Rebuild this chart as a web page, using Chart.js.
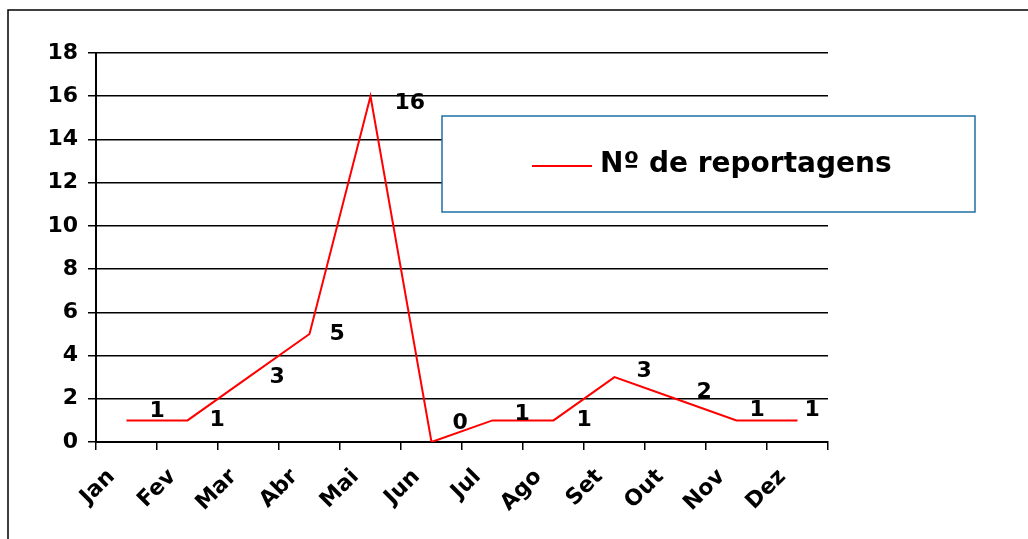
<!DOCTYPE html>
<html>
<head>
<meta charset="utf-8">
<script src="https://cdn.jsdelivr.net/npm/chart.js@4"></script>
<style>
  html, body { margin: 0; padding: 0; background: #fff; }
  #wrap { width: 1028px; height: 539px; position: relative; }
</style>
</head>
<body>
<div id="wrap"><canvas id="myLineChart"></canvas></div>
<script>
// dados do gráfico
const months = ['Jan', 'Fev', 'Mar', 'Abr', 'Mai', 'Jun', 'Jul', 'Ago', 'Set', 'Out', 'Nov', 'Dez'];
const reportagens = [1, 1, 3, 5, 16, 0, 1, 1, 3, 2, 1, 1];
const seriesName = 'Nº de reportagens';
const yTicks = [0, 2, 4, 6, 8, 10, 12, 14, 16, 18];

const FONT = '"DejaVu Sans", Verdana, sans-serif';

// moldura externa (como no Excel)
const framePlugin = {
    id: 'frame',
    beforeDraw(chart) {
        const ctx = chart.ctx;
        ctx.save();
        ctx.fillStyle = '#fff';
        ctx.fillRect(0, 0, chart.width, chart.height);
        ctx.strokeStyle = '#000';
        ctx.lineWidth = 1.5;
        ctx.beginPath();
        ctx.moveTo(8, chart.height + 5);
        ctx.lineTo(8, 10);
        ctx.lineTo(chart.width + 5, 10);
        ctx.stroke();
        ctx.restore();
    }
};

// rótulos dos valores, ao lado de cada ponto
const valueLabels = {
    id: 'valueLabels',
    afterDatasetsDraw(chart, args, opts) {
        const ctx = chart.ctx;
        const meta = chart.getDatasetMeta(0);
        const values = chart.data.datasets[0].data;
        ctx.save();
        ctx.font = opts.font;
        ctx.fillStyle = '#000';
        ctx.textAlign = 'left';
        ctx.textBaseline = 'middle';
        meta.data.forEach((pt, i) => {
            const off = opts.offsets[i] || [22, 0];
            ctx.fillText(String(values[i]), pt.x + off[0], pt.y + off[1]);
        });
        ctx.restore();
    }
};

// caixa da legenda sobreposta ao gráfico
const legendBox = {
    id: 'legendBox',
    afterDraw(chart, args, opts) {
        const ctx = chart.ctx;
        const ds = chart.data.datasets[0];
        const b = opts.box;
        ctx.save();
        ctx.fillStyle = '#fff';
        ctx.fillRect(b.x, b.y, b.w, b.h);
        ctx.strokeStyle = opts.borderColor;
        ctx.lineWidth = 1.5;
        ctx.strokeRect(b.x, b.y, b.w, b.h);
        ctx.strokeStyle = ds.borderColor;
        ctx.lineWidth = 2;
        ctx.beginPath();
        ctx.moveTo(b.x + 90, b.y + 50);
        ctx.lineTo(b.x + 150, b.y + 50);
        ctx.stroke();
        ctx.fillStyle = '#000';
        ctx.font = opts.font;
        ctx.textAlign = 'left';
        ctx.textBaseline = 'middle';
        ctx.fillText(ds.label, b.x + 158, b.y + 49);
        ctx.restore();
    }
};

const ctxEl = document.getElementById('myLineChart');

new Chart(ctxEl.getContext('2d'), {
    type: 'line',
    data: {
        labels: months,
        datasets: [{
            label: seriesName,
            data: reportagens,
            borderColor: '#ff0000',
            backgroundColor: '#ff0000',
            borderWidth: 2,
            pointRadius: 0,
            tension: 0
        }]
    },
    options: {
        responsive: true,
        maintainAspectRatio: false,
        animation: false,
        layout: {
            padding: { top: 53, right: 200, bottom: 0, left: 0 }
        },
        scales: {
            x: {
                offset: true,
                afterFit: s => { s.height = 97; },
                grid: {
                    offset: true,
                    color: c => c.index === months.length ? '#000' : 'rgba(0,0,0,0)',
                    tickColor: '#000',
                    lineWidth: 1.5,
                    tickLength: 8
                },
                border: { color: '#000', width: 2 },
                ticks: {
                    color: '#000',
                    font: { family: FONT, size: 22, weight: 'bold' },
                    minRotation: 45,
                    maxRotation: 45,
                    labelOffset: -15,
                    padding: 14
                }
            },
            y: {
                min: 0,
                max: 18,
                afterFit: s => { s.width = 96; },
                afterBuildTicks: s => { s.ticks = yTicks.map(v => ({ value: v })); },
                grid: {
                    color: '#000',
                    lineWidth: 1.5,
                    tickLength: 8
                },
                border: { color: '#000', width: 2 },
                ticks: {
                    color: '#000',
                    font: { family: FONT, size: 22, weight: 'bold' },
                    padding: 10
                }
            }
        },
        plugins: {
            legend: { display: false },
            tooltip: { enabled: false },
            valueLabels: {
                font: 'bold 22px ' + FONT,
                offsets: [[23, -9], [22, 0], [21, 0], [20, 0], [24, 7], [21, -19],
                          [22, -6], [23, 0], [22, -6], [21, -6], [13, -10], [7, -10]]
            },
            legendBox: {
                box: { x: 442, y: 116, w: 533, h: 96 },
                borderColor: '#1f6fa3',
                font: 'bold 28px ' + FONT
            }
        }
    },
    plugins: [framePlugin, valueLabels, legendBox]
});
</script>
</body>
</html>
